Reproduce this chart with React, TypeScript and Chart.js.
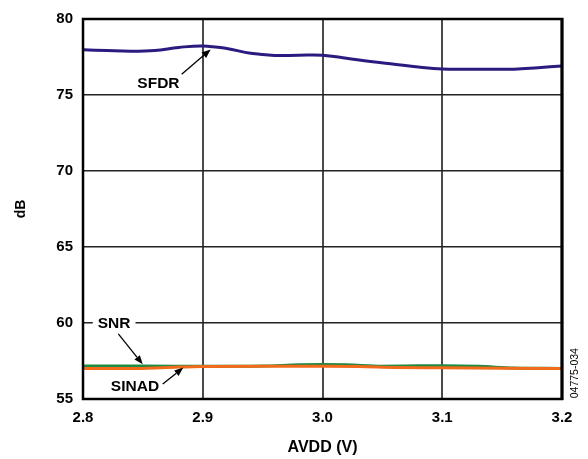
import React, { useEffect, useRef } from "react";
import { Chart, registerables } from "chart.js";

Chart.register(...registerables);

// ---- data ----
const sfdrVolts = [2.8, 2.82, 2.84, 2.86, 2.88, 2.9, 2.92, 2.94, 2.96, 2.98, 3.0, 3.02, 3.04, 3.06, 3.08, 3.1, 3.12, 3.14, 3.16, 3.18, 3.2];
const sfdrValues = [77.98, 77.92, 77.88, 77.93, 78.13, 78.23, 78.06, 77.74, 77.6, 77.62, 77.62, 77.42, 77.2, 77.02, 76.84, 76.71, 76.69, 76.69, 76.7, 76.8, 76.91];

const snrVolts = [2.8, 2.85, 2.9, 2.95, 2.98, 3.0, 3.02, 3.05, 3.08, 3.1, 3.13, 3.16, 3.2];
const snrValues = [57.17, 57.17, 57.15, 57.17, 57.25, 57.27, 57.25, 57.16, 57.18, 57.19, 57.15, 57.04, 57.01];

const sinadVolts = [2.8, 2.84, 2.87, 2.9, 2.95, 3.0, 3.03, 3.06, 3.1, 3.15, 3.2];
const sinadValues = [57.0, 57.0, 57.07, 57.14, 57.15, 57.15, 57.14, 57.08, 57.05, 57.02, 57.0];

const xTicks = [2.8, 2.9, 3.0, 3.1, 3.2];
const yTicks = [55, 60, 65, 70, 75, 80];

const xTitle = "AVDD (V)";
const yTitle = "dB";
const figureId = "04775-034";

// annotations: [label, labelX, labelY, arrowFromX, arrowFromY, arrowToX, arrowToY]
const annotations: [string, number, number, number, number, number, number][] = [
  ["SFDR", 2.863, 75.79, 2.8824, 76.36, 2.9066, 78.0],
  ["SNR", 2.826, 60.0, 2.8295, 59.29, 2.8499, 57.28],
  ["SINAD", 2.8434, 55.85, 2.8666, 55.98, 2.8838, 57.07],
];

const toPoints = (xs: number[], ys: number[]) => xs.map((x, i) => ({ x, y: ys[i] }));

const FONT = "'Liberation Sans', Arial, Helvetica, sans-serif";

const overlayPlugin = {
  id: "overlay",
  afterDraw(chart: any) {
    const { ctx, chartArea } = chart;
    const xs = chart.scales.x;
    const ys = chart.scales.y;
    ctx.save();
    // frame
    ctx.strokeStyle = "#000";
    ctx.lineWidth = 2.5;
    ctx.strokeRect(chartArea.left, chartArea.top, chartArea.right - chartArea.left, chartArea.bottom - chartArea.top);
    ctx.lineWidth = 3;
    ctx.beginPath();
    ctx.moveTo(chartArea.right, chartArea.top - 1);
    ctx.lineTo(chartArea.right, chartArea.bottom + 1);
    ctx.stroke();

    // annotations
    ctx.font = `bold 15.5px ${FONT}`;
    ctx.textAlign = "center";
    ctx.textBaseline = "middle";
    for (const [label, lx, ly, fx, fy, tx, ty] of annotations) {
      const px = xs.getPixelForValue(lx);
      const py = ys.getPixelForValue(ly);
      const w = ctx.measureText(label).width;
      ctx.fillStyle = "#fff";
      ctx.fillRect(px - w / 2 - 5, py - 8, w + 10, 16);
      ctx.fillStyle = "#000";
      ctx.fillText(label, px, py + 1);
      const x1 = xs.getPixelForValue(fx);
      const y1 = ys.getPixelForValue(fy);
      const x2 = xs.getPixelForValue(tx);
      const y2 = ys.getPixelForValue(ty);
      const ang = Math.atan2(y2 - y1, x2 - x1);
      const headLen = 9;
      const headW = 3.5;
      const bx = x2 - headLen * Math.cos(ang);
      const by = y2 - headLen * Math.sin(ang);
      ctx.strokeStyle = "#000";
      ctx.lineWidth = 1.3;
      ctx.beginPath();
      ctx.moveTo(x1, y1);
      ctx.lineTo(bx, by);
      ctx.stroke();
      ctx.beginPath();
      ctx.moveTo(x2, y2);
      ctx.lineTo(bx + headW * Math.sin(ang), by - headW * Math.cos(ang));
      ctx.lineTo(bx - headW * Math.sin(ang), by + headW * Math.cos(ang));
      ctx.closePath();
      ctx.fill();
    }

    // figure id (vertical)
    ctx.font = `10.5px ${FONT}`;
    ctx.fillStyle = "#000";
    ctx.translate(chartArea.right + 13, ys.getPixelForValue(56.7));
    ctx.rotate(-Math.PI / 2);
    ctx.fillText(figureId, 0, 0);
    ctx.restore();
  },
};

export default function App() {
  const canvasRef = useRef<HTMLCanvasElement | null>(null);

  useEffect(() => {
    if (!canvasRef.current) return;
    const chart = new Chart(canvasRef.current, {
      type: "line",
      data: {
        datasets: [
          {
            label: "SFDR",
            data: toPoints(sfdrVolts, sfdrValues),
            borderColor: "#2D1A80",
            borderWidth: 3,
            pointRadius: 0,
            tension: 0.4,
            order: 2,
          },
          {
            label: "SNR",
            data: toPoints(snrVolts, snrValues),
            borderColor: "#1E8A42",
            borderWidth: 3,
            pointRadius: 0,
            cubicInterpolationMode: "monotone",
            order: 1,
          },
          {
            label: "SINAD",
            data: toPoints(sinadVolts, sinadValues),
            borderColor: "#F26A1B",
            borderWidth: 3,
            pointRadius: 0,
            cubicInterpolationMode: "monotone",
            order: 0,
          },
        ],
      },
      options: {
        responsive: false,
        animation: false,
        layout: { padding: { left: 0, top: 16, right: 26, bottom: 0 } },
        plugins: {
          legend: { display: false },
          tooltip: { enabled: false },
        },
        scales: {
          x: {
            type: "linear",
            min: xTicks[0],
            max: xTicks[xTicks.length - 1],
            afterBuildTicks: (scale: any) => {
              scale.ticks = xTicks.map((v) => ({ value: v }));
            },
            afterFit: (scale: any) => {
              scale.height = 60;
            },
            grid: { color: "#4a4a4a", lineWidth: 2, drawTicks: false },
            border: { display: false },
            ticks: {
              padding: 10,
              color: "#000",
              font: { family: FONT, size: 15, weight: "bold" },
              callback: (v: any) => Number(v).toFixed(1),
              maxRotation: 0,
            },
            title: {
              display: true,
              text: xTitle,
              color: "#000",
              font: { family: FONT, size: 16, weight: "bold" },
              padding: { top: 0, bottom: 2 },
            },
          },
          y: {
            type: "linear",
            min: yTicks[0],
            max: yTicks[yTicks.length - 1],
            afterBuildTicks: (scale: any) => {
              scale.ticks = yTicks.map((v) => ({ value: v }));
            },
            afterFit: (scale: any) => {
              scale.width = 83;
            },
            grid: { color: "#222", lineWidth: 1.6, drawTicks: false },
            border: { display: false },
            ticks: {
              padding: 10,
              color: "#000",
              font: { family: FONT, size: 15, weight: "bold" },
              callback: (v: any) => String(v),
            },
            title: {
              display: true,
              text: yTitle,
              color: "#000",
              font: { family: FONT, size: 14, weight: "bold" },
              padding: { top: 13, bottom: 0 },
            },
          },
        },
      },
      plugins: [overlayPlugin],
    } as any);
    return () => chart.destroy();
  }, []);

  return (
    <div style={{ position: "absolute", left: 0, top: 0, width: 588, height: 459, background: "#fff" }}>
      <canvas ref={canvasRef} width={588} height={459} style={{ display: "block" }} />
    </div>
  );
}
